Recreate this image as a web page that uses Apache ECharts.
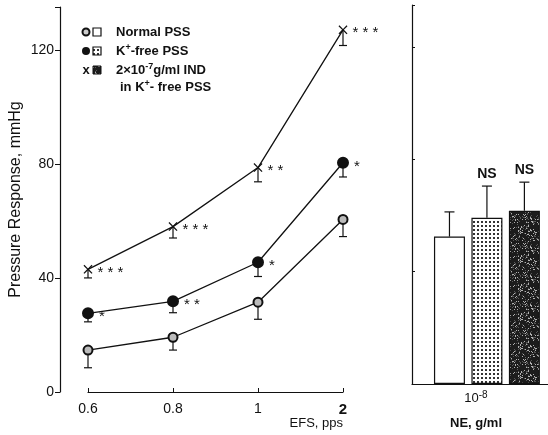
<!DOCTYPE html>
<html lang="en">

<head>
    <meta charset="UTF-8">
    <title>Pressure response to EFS</title>
    <style>
        html, body { margin: 0; padding: 0; background: #fff; }
        #chartContainer { width: 548px; height: 435px; }
    </style>
    <script src="https://cdnjs.cloudflare.com/ajax/libs/echarts/6.0.0/echarts.min.js"></script>
</head>

<body>
    <div id="chartContainer"></div>
    <script>
        // --- data ---
        const efsCategories = ['0.6', '0.8', '1', '2'];
        const yTicks = [0, 40, 80, 120];

        const normalMean = [14.7, 19.2, 31.5, 60.5];
        const normalErr = [6.2, 4.5, 6, 6];

        const kfreeMean = [27.6, 31.8, 45.5, 80.4];
        const kfreeErr = [3, 4, 5, 5];
        const kfreeSig = ['*', '**', '*', '*'];

        const indMean = [43, 58, 78.7, 127];
        const indErr = [3, 4, 5, 5.5];
        const indSig = ['***', '***', '**', '***'];

        const neBars = [52.5, 59.2, 61.7];
        const neErr = [8.8, 11.3, 10.2];
        const neSig = ['', 'NS', 'NS'];

        const INK = '#111';
        const FONT = 'Liberation Sans, Arial, sans-serif';

        // fill textures for bars
        function dotPattern() {
            const c = document.createElement('canvas');
            c.width = 4; c.height = 4;
            const g = c.getContext('2d');
            g.fillStyle = '#fff'; g.fillRect(0, 0, 4, 4);
            g.fillStyle = '#333'; g.fillRect(1, 1, 2, 2);
            return c;
        }
        function speckPattern() {
            // fixed hash texture, just to look like the grainy dark fill
            const n = 29;
            const c = document.createElement('canvas');
            c.width = n; c.height = n;
            const g = c.getContext('2d');
            g.fillStyle = '#1c1c1c'; g.fillRect(0, 0, n, n);
            for (let i = 0; i < n; i++) {
                for (let j = 0; j < n; j++) {
                    const h = ((i * 73856093) ^ (j * 19349663)) >>> 0;
                    const k = h % 100;
                    if (k < 10) { g.fillStyle = '#b0b0b0'; g.fillRect(i, j, 1, 1); }
                    else if (k < 22) { g.fillStyle = '#555'; g.fillRect(i, j, 1, 1); }
                }
            }
            return c;
        }
        const dots = dotPattern();
        const specks = speckPattern();

        const xSymbol = 'path://M0,1L1,0L5,4L9,0L10,1L6,5L10,9L9,10L5,6L1,10L0,9L4,5Z';

        function sigText(d) {
            return d.split('').join(' ');
        }

        // error bars going down from the mean on the left panel
        function downErr(means, errs) {
            return means.map((m, i) => [i, m, m - errs[i]]);
        }
        function renderDownErr(params, api) {
            const top = api.coord([api.value(0), api.value(1)]);
            const bot = api.coord([api.value(0), api.value(2)]);
            const st = { stroke: INK, lineWidth: 1.2 };
            return {
                type: 'group',
                children: [
                    { type: 'line', shape: { x1: top[0], y1: top[1], x2: bot[0], y2: bot[1] }, style: st },
                    { type: 'line', shape: { x1: bot[0] - 4, y1: bot[1], x2: bot[0] + 4, y2: bot[1] }, style: st }
                ]
            };
        }
        function renderUpErr(params, api) {
            const base = api.coord([api.value(0), api.value(1)]);
            const top = api.coord([api.value(0), api.value(1) + api.value(2)]);
            const st = { stroke: INK, lineWidth: 1.2 };
            const children = [
                { type: 'line', shape: { x1: base[0], y1: base[1], x2: top[0], y2: top[1] }, style: st },
                { type: 'line', shape: { x1: top[0] - 5, y1: top[1], x2: top[0] + 5, y2: top[1] }, style: st }
            ];
            const lbl = neSig[params.dataIndex];
            if (lbl) {
                children.push({
                    type: 'text',
                    style: {
                        x: top[0], y: top[1] - 5, text: lbl, fill: INK,
                        font: 'bold 14px ' + FONT, align: 'center', verticalAlign: 'bottom'
                    }
                });
            }
            return { type: 'group', children: children };
        }

        function lineSeries(name, data, symbol, size, fill, sig, offsetY) {
            return {
                name: name,
                type: 'line',
                xAxisIndex: 0, yAxisIndex: 0,
                data: data,
                symbol: symbol,
                symbolSize: size,
                showAllSymbol: true,
                lineStyle: { color: INK, width: 1.3 },
                itemStyle: { color: fill, borderColor: INK, borderWidth: symbol === 'circle' ? 2 : 0 },
                label: {
                    show: !!sig,
                    position: 'right',
                    distance: 5,
                    offset: [0, offsetY || 3],
                    color: INK,
                    fontSize: 15,
                    fontFamily: FONT,
                    formatter: p => sig ? sigText(sig[p.dataIndex]) : ''
                },
                z: 3
            };
        }

        const option = {
            backgroundColor: '#fff',
            animation: false,
            textStyle: { fontFamily: FONT, color: INK },
            grid: [
                { left: 88, right: 205, top: 7, bottom: 43 },
                { left: 412, right: 0, top: 5, bottom: 47 }
            ],
            xAxis: [{
                gridIndex: 0,
                type: 'category',
                data: efsCategories,
                boundaryGap: false,
                axisLine: { lineStyle: { color: INK, width: 1.2 } },
                axisTick: { inside: true, length: 4, lineStyle: { color: INK } },
                axisLabel: {
                    color: INK, fontSize: 14, margin: 10,
                    formatter: v => v === '2' ? '{b|2}' : v,
                    rich: { b: { fontWeight: 'bold', fontSize: 15, color: INK } }
                },
                name: 'EFS, pps',
                nameLocation: 'end',
                nameGap: 0,
                nameTextStyle: {
                    color: INK, fontSize: 13, align: 'right',
                    verticalAlign: 'top', padding: [25, 0, 0, 0]
                }
            }, {
                gridIndex: 1,
                type: 'value',
                min: 0,
                max: 3.63,
                interval: 1,
                splitLine: { show: false },
                axisLine: { lineStyle: { color: INK, width: 1.2 } },
                axisTick: { show: false },
                axisLabel: {
                    color: INK, fontSize: 13, margin: 6,
                    padding: [0, 22, 0, 0],
                    showMaxLabel: false,
                    formatter: v => v === 2 ? '10{s|-8}' : '',
                    rich: { s: { fontSize: 10, verticalAlign: 'top', padding: [0, 0, 6, 0], color: INK } }
                },
                name: 'NE, g/ml',
                nameLocation: 'middle',
                nameGap: 33,
                nameTextStyle: { color: INK, fontSize: 13, fontWeight: 'bold', padding: [0, 8, 0, 0] }
            }],
            yAxis: [{
                gridIndex: 0,
                type: 'value',
                min: 0,
                max: 135,
                interval: 40,
                offset: 28,
                splitLine: { show: false },
                axisLine: { show: true, lineStyle: { color: INK, width: 1.2 } },
                axisTick: {
                    show: true, length: 5, lineStyle: { color: INK },
                    interval: (i, v) => yTicks.indexOf(+v) >= 0
                },
                axisLabel: {
                    color: INK, fontSize: 14, margin: 6,
                    formatter: v => yTicks.indexOf(v) >= 0 ? String(v) : ''
                },
                name: 'Pressure Response, mmHg',
                nameLocation: 'middle',
                nameGap: 36,
                nameTextStyle: { color: INK, fontSize: 16 }
            }, {
                gridIndex: 1,
                type: 'value',
                min: 0,
                max: 135,
                interval: 40,
                splitLine: { show: false },
                axisLine: { show: true, lineStyle: { color: INK, width: 1.2 } },
                axisTick: { show: true, inside: true, length: 3, lineStyle: { color: INK } },
                axisLabel: { show: false }
            }],
            graphic: [
                // legend
                { type: 'circle', shape: { cx: 86, cy: 32, r: 3.5 }, style: { fill: '#ccc', stroke: INK, lineWidth: 2 } },
                { type: 'rect', shape: { x: 93, y: 28, width: 8, height: 8 }, style: { fill: '#fff', stroke: INK, lineWidth: 1.2 } },
                { type: 'text', style: { x: 116, y: 32, text: 'Normal PSS', font: 'bold 13px ' + FONT, fill: INK, verticalAlign: 'middle' } },

                { type: 'circle', shape: { cx: 86, cy: 51, r: 4 }, style: { fill: INK } },
                { type: 'rect', shape: { x: 93, y: 47, width: 8, height: 8 }, style: { fill: { image: dots, repeat: 'repeat' }, stroke: INK, lineWidth: 1.2 } },
                {
                    type: 'text', style: {
                        x: 116, y: 51, text: 'K{s|+}-free PSS', font: 'bold 13px ' + FONT, fill: INK, verticalAlign: 'middle',
                        rich: { s: { fontSize: 9, verticalAlign: 'top', padding: [0, 0, 6, 0], fontWeight: 'bold' } }
                    }
                },

                { type: 'text', style: { x: 86, y: 70, text: 'x', font: 'bold 13px ' + FONT, fill: INK, align: 'center', verticalAlign: 'middle' } },
                { type: 'rect', shape: { x: 93, y: 66, width: 8, height: 8 }, style: { fill: { image: specks, repeat: 'repeat' }, stroke: INK, lineWidth: 1 } },
                {
                    type: 'text', style: {
                        x: 116, y: 70, text: '2×10{s|-7}g/ml IND', font: 'bold 13px ' + FONT, fill: INK, verticalAlign: 'middle',
                        rich: { s: { fontSize: 9, verticalAlign: 'top', padding: [0, 0, 6, 0], fontWeight: 'bold' } }
                    }
                },
                {
                    type: 'text', style: {
                        x: 120, y: 87, text: 'in K{s|+}- free PSS', font: 'bold 13px ' + FONT, fill: INK, verticalAlign: 'middle',
                        rich: { s: { fontSize: 9, verticalAlign: 'top', padding: [0, 0, 6, 0], fontWeight: 'bold' } }
                    }
                }
            ],
            series: [
                {
                    type: 'custom', xAxisIndex: 0, yAxisIndex: 0,
                    data: downErr(normalMean, normalErr), renderItem: renderDownErr, z: 2
                },
                {
                    type: 'custom', xAxisIndex: 0, yAxisIndex: 0,
                    data: downErr(kfreeMean, kfreeErr), renderItem: renderDownErr, z: 2
                },
                {
                    type: 'custom', xAxisIndex: 0, yAxisIndex: 0,
                    data: downErr(indMean, indErr), renderItem: renderDownErr, z: 2
                },
                lineSeries('Normal PSS', normalMean, 'circle', 9, '#bbb', null),
                lineSeries('K+-free PSS', kfreeMean, 'circle', 10, INK, kfreeSig, 4),
                lineSeries('IND in K+-free PSS', indMean, xSymbol, 9, INK, indSig, 3),
                {
                    type: 'bar',
                    xAxisIndex: 1, yAxisIndex: 1,
                    barWidth: 31,
                    data: neBars.map((v, i) => ({
                        value: [i + 1, v],
                        itemStyle: {
                            color: i === 0 ? '#fff' : { image: i === 1 ? dots : specks, repeat: 'repeat' },
                            borderColor: INK,
                            borderWidth: 1.2
                        }
                    })),
                    z: 2
                },
                {
                    type: 'custom', xAxisIndex: 1, yAxisIndex: 1,
                    data: neBars.map((v, i) => [i + 1, v, neErr[i]]),
                    renderItem: renderUpErr, z: 3
                }
            ]
        };

        const chartDom = document.getElementById('chartContainer');
        const myChart = echarts.init(chartDom);
        myChart.setOption(option);
    </script>
</body>

</html>
